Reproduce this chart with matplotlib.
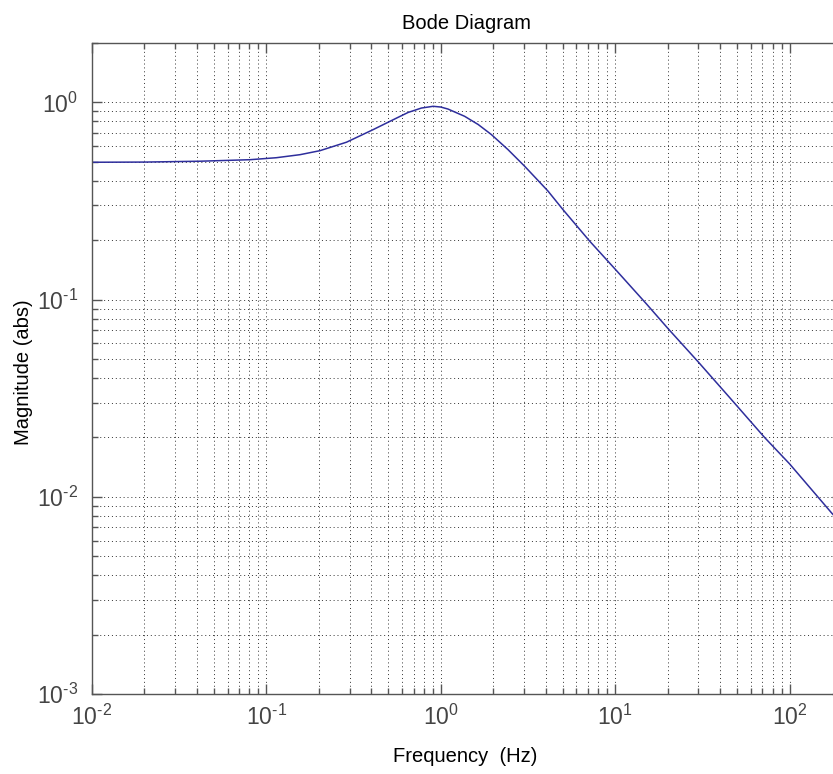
import numpy as np
import matplotlib
matplotlib.use("Agg")
import matplotlib.pyplot as plt
from matplotlib.ticker import LogLocator, FuncFormatter, NullFormatter

plt.rcParams['font.family'] = ['Liberation Sans', 'DejaVu Sans']
plt.rcParams['mathtext.fontset'] = 'custom'
plt.rcParams['mathtext.rm'] = 'Liberation Sans'
plt.rcParams['mathtext.it'] = 'Liberation Sans'
plt.rcParams['mathtext.default'] = 'regular'

# magnitude
freq_hz = [0.01, 0.02, 0.0416, 0.0805, 0.114, 0.156, 0.203, 0.288, 0.409,
           0.545, 0.65, 0.775, 0.904, 1.0, 1.10, 1.37, 1.64, 1.95, 2.43,
           3.03, 3.77, 4.12, 5.02, 7.14, 10.2, 15.1, 20.1, 29.9, 45.3, 71.9,
           100, 176, 200]
mag_abs = [0.497, 0.498, 0.503, 0.512, 0.524, 0.543, 0.569, 0.628, 0.727,
           0.824, 0.889, 0.936, 0.955, 0.947, 0.925, 0.85, 0.772, 0.687, 0.576,
           0.474, 0.386, 0.355, 0.286, 0.198, 0.14, 0.0952, 0.0713, 0.0484, 0.0319, 0.02,
           0.0147, 0.0082, 0.0073]

xlim = (1e-2, 200)
ylim = (1e-3, 2)

fig = plt.figure(figsize=(8.33, 7.74), dpi=100)
ax = fig.add_axes([92 / 833, 80 / 774, 750 / 833, 651 / 774])

ax.loglog(freq_hz, mag_abs, color='#2e2e9c', linewidth=1.1)
ax.set_xlim(*xlim)
ax.set_ylim(*ylim)


def pow10(v, pos):
    # hyphen exponent like the original, not a unicode minus
    return r'$10^{\text{%d}}$' % int(round(np.log10(v)))


for axis in (ax.xaxis, ax.yaxis):
    axis.set_major_locator(LogLocator(base=10, numticks=10))
    axis.set_minor_locator(LogLocator(base=10, subs=np.arange(2, 10), numticks=20))
    axis.set_major_formatter(FuncFormatter(pow10))
    axis.set_minor_formatter(NullFormatter())

ax.grid(True, which='both', linestyle=(0, (1, 3)), color='#333333', linewidth=0.7)
ax.tick_params(which='both', direction='in', top=True, right=True,
               colors='#555555', labelcolor='#444444', labelsize=16.5)
ax.tick_params(which='major', length=7, width=1)
ax.tick_params(which='minor', length=4.5, width=1)
ax.tick_params(axis='x', pad=8)
ax.tick_params(axis='y', pad=10)
for sp in ax.spines.values():
    sp.set_color('#555555')
    sp.set_linewidth(1)

ax.set_title('Bode Diagram', fontsize=14.5, pad=10)
ax.set_xlabel('Frequency  (Hz)', fontsize=14.5)
ax.set_ylabel('Magnitude (abs)', fontsize=14.5)
ax.xaxis.set_label_coords(0.497, -0.081)
ax.yaxis.set_label_coords(-0.079, 0.495)

fig.savefig('out.png', dpi=100)
